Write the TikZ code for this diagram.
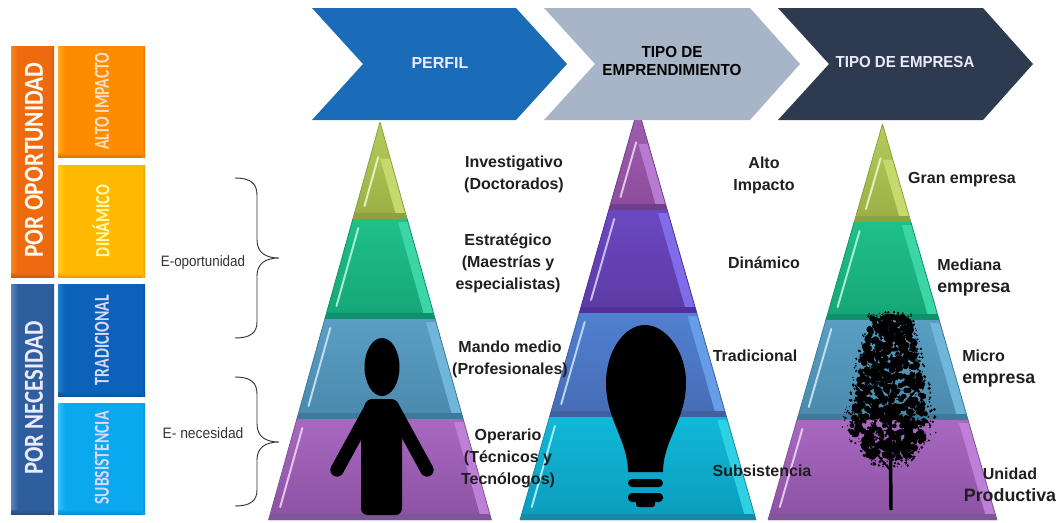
\documentclass[tikz,border=0pt]{standalone}
\usepackage{fontspec}
\usepackage{graphicx}
\setmainfont{Liberation Sans}
\newfontfamily\cali{Carlito}
\newcommand\fitt[3]{\resizebox{#1}{#2}{#3}}
\newcommand\band[9]{%
  \pgfmathsetmacro\hA{#3*(#4-#2)}%
  \pgfmathsetmacro\hB{#3*(#5-#2)}%
  \pgfmathsetmacro\ty{max(#4+3,#2+10/#3+1)}%
  \pgfmathsetmacro\by{#5-6}%
  \pgfmathsetmacro\hT{max(#3*(\ty-#2)-10,0)}%
  \pgfmathsetmacro\hOT{#3*(\ty-#2)}%
  \pgfmathsetmacro\hD{#3*(\by-#2)-10}%
  \pgfmathsetmacro\hOB{#3*(\by-#2)}%
  \pgfmathsetmacro\hS{max(#4+9,#2+9/#3+3)}%
  \pgfmathsetmacro\hSx{#3*(\hS-#2)-8}%
  \pgfmathsetmacro\hE{#5-13}%
  \pgfmathsetmacro\hEx{#3*(\hE-#2)-8}%
  \path[top color=#6,bottom color=#7] (#1-\hA,#4) -- (#1+\hA,#4) -- (#1+\hB,#5) -- (#1-\hB,#5) -- cycle;
  \fill[#8] (#1+\hA,#4) -- (#1+\hOT,\ty) -- (#1+\hT,\ty) -- (#1+\hD,\by) -- (#1+\hOB,\by) -- (#1+\hB,#5) -- cycle;
  \fill[#9] (#1-\hOB,\by) -- (#1-\hD,\by) -- (#1+\hD,\by) -- (#1+\hOB,\by) -- (#1+\hB,#5) -- (#1-\hB,#5) -- cycle;
  \draw[#9,line width=0.6pt] (#1-\hA,#4) -- (#1-\hB,#5) (#1+\hA,#4) -- (#1+\hB,#5);
  \draw[#8!45!white,line width=1.5pt,line cap=round] (#1-\hSx,\hS) -- (#1-\hEx,\hE);
}
\definecolor{gyT}{HTML}{B5CC5A}\definecolor{gyB}{HTML}{9AAE45}\definecolor{gyL}{HTML}{C6D96C}\definecolor{gyD}{HTML}{8CA044}
\definecolor{grT}{HTML}{1FC08A}\definecolor{grB}{HTML}{16A576}\definecolor{grL}{HTML}{3CD6A4}\definecolor{grD}{HTML}{10906C}
\definecolor{tbT}{HTML}{5A9EC4}\definecolor{tbB}{HTML}{4A89AD}\definecolor{tbL}{HTML}{6FB6DA}\definecolor{tbD}{HTML}{3F7A98}
\definecolor{puT}{HTML}{A868C0}\definecolor{puB}{HTML}{8C52A2}\definecolor{puL}{HTML}{BE80D6}\definecolor{puD}{HTML}{7E5698}
\definecolor{ppT}{HTML}{A060B0}\definecolor{ppB}{HTML}{8C4C9A}\definecolor{ppL}{HTML}{B67AD0}\definecolor{ppD}{HTML}{6E3E90}
\definecolor{viT}{HTML}{6A48C0}\definecolor{viB}{HTML}{5C3AA4}\definecolor{viL}{HTML}{806CE8}\definecolor{viD}{HTML}{50309A}
\definecolor{blT}{HTML}{5080D0}\definecolor{blB}{HTML}{466CB4}\definecolor{blL}{HTML}{669CE8}\definecolor{blD}{HTML}{4060A0}
\definecolor{cyT}{HTML}{10B8D8}\definecolor{cyB}{HTML}{0C9CBC}\definecolor{cyL}{HTML}{30D0E4}\definecolor{cyD}{HTML}{1888A8}
\definecolor{boxA}{HTML}{EE6A0E}\definecolor{boxAl}{HTML}{F58A20}\definecolor{boxAd}{HTML}{C85A10}
\definecolor{boxB}{HTML}{2F5E9E}\definecolor{boxBl}{HTML}{5A86BE}\definecolor{boxBd}{HTML}{264C80}
\definecolor{boxC}{HTML}{FF8C00}\definecolor{boxCl}{HTML}{FFAA20}\definecolor{boxCd}{HTML}{D87600}
\definecolor{boxD}{HTML}{FFB900}\definecolor{boxDl}{HTML}{FFD020}\definecolor{boxDd}{HTML}{E0A000}
\definecolor{boxE}{HTML}{0B62B8}\definecolor{boxEl}{HTML}{1E7ED0}\definecolor{boxEd}{HTML}{0A5298}
\definecolor{boxF}{HTML}{0AA8EE}\definecolor{boxFl}{HTML}{30C4F8}\definecolor{boxFd}{HTML}{0A90CC}
\definecolor{chA}{HTML}{1A6CB8}\definecolor{chB}{HTML}{A8B4C8}\definecolor{chC}{HTML}{2E3A50}
\newcommand\bevbox[7]{% x1 y1 x2 y2 main light dark
  \fill[#5] (#1,#2) rectangle (#3,#4);
  \path[left color=#6,right color=#5] (#1,#2) rectangle (#1+7,#4);
  \path[top color=#5,bottom color=#7] (#1,#4-4) rectangle (#3,#4);
  \path[left color=#5,right color=#7] (#3-3,#2) rectangle (#3,#4);
}
\tikzset{
  lab/.style={font=\bfseries\fontsize{12}{16.5}\selectfont,align=center,text=black!88,inner sep=0pt},
  side/.style={font=\fontsize{11.3}{12}\selectfont,text=black!80,inner sep=0pt},
  rot/.style={rotate=90,inner sep=0pt,font=\cali\bfseries},
  brace/.style={draw=black!80,line width=0.7pt},
  head/.style={font=\bfseries\fontsize{12}{13.5}\selectfont,inner sep=0pt},
}
\begin{document}
\begin{tikzpicture}[x=0.75pt,y=-0.75pt]
\useasboundingbox (0,0) rectangle (1059,522);
% left boxes
\bevbox{11}{46}{54}{277}{boxA}{boxAl}{boxAd}
\bevbox{11}{284}{54}{514}{boxB}{boxBl}{boxBd}
\bevbox{58}{46}{145}{157}{boxC}{boxCl}{boxCd}
\bevbox{58}{165}{145}{277}{boxD}{boxDl}{boxDd}
\bevbox{58}{284}{145}{396}{boxE}{boxEl}{boxEd}
\bevbox{58}{403}{145}{514}{boxF}{boxFl}{boxFd}
\node[rot,text=white!95!orange] (pop) at (34,160) {\fitt{146.25pt}{13.5pt}{POR OPORTUNIDAD}};
\node[rot,text=white!92!blue] (pne) at (34,398) {\fitt{114.75pt}{13.5pt}{POR NECESIDAD}};
\node[rot,text=white!75!orange] (alt) at (102,101) {\fitt{72.75pt}{10.5pt}{ALTO IMPACTO}};
\node[rot,text=yellow!30!white] (din) at (101,221) {\fitt{54pt}{12.75pt}{DINÁMICO}};
\node[rot,text=white!85!blue] (tra) at (102,340) {\fitt{67.5pt}{10.5pt}{TRADICIONAL}};
\node[rot,text=white!85!blue] (sub) at (102,458) {\fitt{69.75pt}{10.5pt}{SUBSISTENCIA}};
% braces
\draw[brace] (235,178) .. controls (250,178) and (257,183) .. (257,195) -- (257,240) .. controls (257,252) and (265,258) .. (279,258) .. controls (265,258) and (257,264) .. (257,276) -- (257,322) .. controls (257,333) and (250,338) .. (235,338);
\draw[brace] (235,377) .. controls (250,377) and (257,382) .. (257,394) -- (257,424) .. controls (257,436) and (265,442) .. (279,442) .. controls (265,442) and (257,448) .. (257,460) -- (257,490) .. controls (257,501) and (250,506) .. (235,506);
\node[side] (eop) at (203,263) {\scalebox{.89}[1]{E-oportunidad}};
\node[side] (ene) at (203,433) {\scalebox{.92}[1]{E- necesidad}};
% pyramid 1
\band{380}{122}{0.28}{122}{219}{gyT}{gyB}{gyL}{gyD}
\band{380}{122}{0.28}{219}{319}{grT}{grB}{grL}{grD}
\band{380}{122}{0.28}{319}{419}{tbT}{tbB}{tbL}{tbD}
\band{380}{122}{0.28}{419}{520}{puT}{puB}{puL}{puD}
% pyramid 2
\band{638}{108}{0.2864}{108}{210}{ppT}{ppB}{ppL}{ppD}
\band{638}{108}{0.2864}{210}{313}{viT}{viB}{viL}{viD}
\band{638}{108}{0.2864}{313}{417}{blT}{blB}{blL}{blD}
\band{638}{108}{0.2864}{417}{520}{cyT}{cyB}{cyL}{cyD}
% pyramid 3
\band{882.5}{124}{0.289}{124}{222}{gyT}{gyB}{gyL}{gyD}
\band{882.5}{124}{0.289}{222}{320}{grT}{grB}{grL}{grD}
\band{882.5}{124}{0.289}{320}{420}{tbT}{tbB}{tbL}{tbD}
\band{882.5}{124}{0.289}{420}{520}{puT}{puB}{puL}{puD}
% chevrons
\fill[chA] (312,8) -- (516,8) -- (567,64) -- (516,120) -- (312,120) -- (363,64) -- cycle;
\fill[chB] (544,8) -- (750,8) -- (800,64) -- (750,120) -- (544,120) -- (595,64) -- cycle;
\fill[chC] (778,8) -- (983,8) -- (1033,64) -- (983,120) -- (778,120) -- (829,64) -- cycle;
\node[head,text=white!92!blue] (che1) at (440,63) {PERFIL};
\node[head,text=black,align=center] (che2) at (672,63) {\scalebox{.95}[1]{\begin{tabular}{@{}c@{}}TIPO DE\\[-0.5pt]EMPRENDIMIENTO\end{tabular}}};
\node[head,text=white!92!blue] (che3) at (905,62) {\scalebox{.94}[1]{TIPO DE EMPRESA}};
% person
\fill[black] (382,367) ellipse (17.5 and 29);
\fill[black,rounded corners=5] (361,515) -- (361,420) -- (366,399) -- (397,399) -- (402,420) -- (402,515) -- cycle;
\draw[black,line width=10pt,line cap=round] (372,406) -- (337,470);
\draw[black,line width=10pt,line cap=round] (392,406) -- (427,470);
% bulb
\fill[black] (628,472) .. controls (628,440) and (606,420) .. (606,383) .. controls (606,350) and (625,325) .. (645,325) .. controls (665,325) and (686,350) .. (686,383) .. controls (686,420) and (663,440) .. (663,472) -- cycle;
\fill[black,rounded corners=3] (628,479) rectangle (663,487);
\fill[black,rounded corners=3] (628,493) rectangle (663,502);
\fill[black,rounded corners=2] (636,500) rectangle (655,507);
% tree
\pgfmathsetseed{23}
\draw[black,line width=2.6pt] (891,510) -- (890,400);
\draw[black,line width=1.2pt] (890,470) -- (865,440) (890,460) -- (920,430) (890,430) -- (855,385) (890,420) -- (925,380) (890,400) -- (875,340) (890,400) -- (905,335);
\foreach \i in {1,...,650}{
  \pgfmathsetmacro\ty{316+142*rnd}
  \pgfmathsetmacro\hw{\ty<350 ? 21+(\ty-312)*0.3 : (\ty<430 ? 32+(\ty-350)*0.22 : 50-(\ty-430)*0.9)}
  \pgfmathsetmacro\tx{890+0.8*\hw*(2*rnd-1)}
  \pgfmathsetmacro\tr{1.5+2.2*rnd}
  \fill[black] (\tx,\ty) circle (\tr);
}
\foreach \i in {1,...,900}{
  \pgfmathsetmacro\ty{312+155*rnd}
  \pgfmathsetmacro\hw{\ty<350 ? 21+(\ty-312)*0.3 : (\ty<430 ? 32+(\ty-350)*0.22 : 50-(\ty-430)*0.9)}
  \pgfmathsetmacro\tx{890+\hw*(2*rnd-1)}
  \pgfmathsetmacro\tr{0.5+1*rnd}
  \fill[black] (\tx,\ty) circle (\tr);
}
% labels
\node[lab] (l1) at (514,174) {Investigativo\\(Doctorados)};
\node[lab] (l2) at (508,263) {Estratégico\\(Maestrías y\\especialistas)};
\node[lab] (l3) at (510,359) {Mando medio\\(Profesionales)};
\node[lab] (l4) at (508,458) {Operario\\(Técnicos y\\Tecnólogos)};
\node[lab] (m1) at (764,175) {Alto\\Impacto};
\node[lab] (m2) at (764,263) {Dinámico};
\node[lab] (m3) at (755,356) {Tradicional};
\node[lab] (m4) at (762,471) {Subsistencia};
\node[lab] (r1) at (962,180) {Gran empresa};
\node[lab,align=left,anchor=west] (r2) at (937,278) {Mediana\\{\fontsize{13.3}{16.5}\selectfont empresa}};
\node[lab,align=left,anchor=west] (r3) at (962,369) {Micro\\{\fontsize{13.3}{16.5}\selectfont empresa}};
\node[lab] (r4) at (1010,485) {Unidad\\{\fontsize{13.4}{16.5}\selectfont Productiva}};
\end{tikzpicture}
\end{document}
